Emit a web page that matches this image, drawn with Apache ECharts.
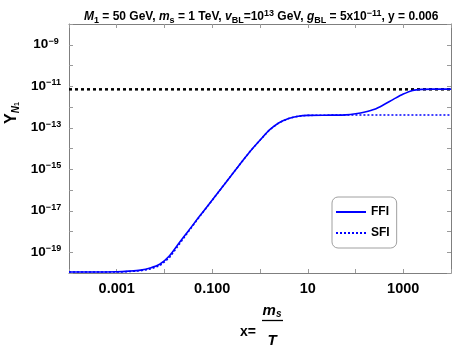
<!DOCTYPE html>
<html>
<head>
<meta charset="utf-8">
<script src="https://cdn.jsdelivr.net/npm/echarts@6/dist/echarts.min.js"></script>
<style>
  html, body { margin: 0; padding: 0; background: #fff; }
  #chart { width: 454px; height: 346px; }
</style>
</head>
<body>
<div id="chart"></div>
<script>
// x = m_s / T
const xValues = [1e-4, 3.16e-4, 1e-3, 1.78e-3, 3.16e-3, 5.01e-3, 7.94e-3, 1.26e-2, 2.0e-2,
  3.16e-2, 5.01e-2, 0.1, 0.2, 0.398, 0.631, 1, 1.58, 2.51, 3.98, 6.31, 10, 31.6, 63.1,
  100, 158, 251, 398, 631, 1000, 1585, 2512, 3981, 1e4]

// Y_N1, freeze-in from fermions (FFI)
const ffiValues = [1.12e-20, 1.12e-20, 1.15e-20, 1.23e-20, 1.38e-20, 1.74e-20, 2.63e-20,
  6.6e-20, 2.7e-19, 1.07e-18, 4.3e-18, 3.3e-17, 2.6e-16, 2.0e-15, 7.6e-15, 2.5e-14,
  7.9e-14, 1.75e-13, 2.8e-13, 3.6e-13, 3.95e-13, 4.05e-13, 4.17e-13, 4.7e-13, 5.75e-13,
  7.8e-13, 1.32e-12, 2.4e-12, 4.2e-12, 6.3e-12, 7.1e-12, 7.25e-12, 7.25e-12]

// Y_N1, freeze-in from scalars (SFI)
const sfiValues = [1.12e-20, 1.12e-20, 1.12e-20, 1.17e-20, 1.29e-20, 1.55e-20, 2.24e-20,
  5.4e-20, 2.3e-19, 9.8e-19, 4.1e-18, 3.2e-17, 2.6e-16, 2.0e-15, 7.6e-15, 2.5e-14,
  7.9e-14, 1.75e-13, 2.8e-13, 3.6e-13, 3.95e-13, 4.05e-13, 4.1e-13, 4.15e-13, 4.15e-13,
  4.15e-13, 4.15e-13, 4.15e-13, 4.15e-13, 4.15e-13, 4.15e-13, 4.15e-13, 4.15e-13]

// observed abundance level (black dashed)
const refLevel = 7.1e-12

const xTickLabels = { '-3': '0.001', '-1': '0.100', '1': '10', '3': '1000' }
const yLabelPowers = [-19, -17, -15, -13, -11, -9]

const frameColor = '#7f7f7f'
const tickColor = '#9a9a9a'
const blue = '#0000ff'
const font = '"Liberation Sans", Arial, sans-serif'

const chart = echarts.init(document.getElementById('chart'))

// y axis works in decades (log10 of the abundance)
function pairs(ys) {
  return xValues.map((x, i) => [x, Math.log10(ys[i])])
}

const xAxisBase = {
  type: 'log',
  logBase: 10,
  min: 1e-4,
  max: 1e4,
  splitNumber: 8,
  axisLine: { show: true, onZero: false, lineStyle: { color: frameColor, width: 1 } },
  axisTick: { show: true, inside: true, length: 4, lineStyle: { color: tickColor } },
  splitLine: { show: false },
  minorTick: { show: false }
}
const yAxisBase = {
  type: 'value',
  min: -20,
  max: -8,
  interval: 1,
  axisLine: { show: true, onZero: false, lineStyle: { color: frameColor, width: 1 } },
  axisTick: { show: true, inside: true, length: 4, lineStyle: { color: tickColor } },
  splitLine: { show: false }
}

const option = {
  animation: false,
  backgroundColor: '#fff',
  title: {
    left: 79,
    top: 4,
    text: '{i|M}{sub|1}{n| = 50 GeV, }{i|m}{sub|s}{n| = 1 TeV, }{i|v}{sub|BL}{n|=10}{sup|13}{n| GeV, }{i|g}{sub|BL}{n| = 5x10}{sup|\u221211}{n|, y = 0.006}',
    textStyle: {
      fontFamily: font,
      fontWeight: 'bold',
      fontSize: 12,
      rich: {
        n: { fontFamily: font, fontWeight: 'bold', fontSize: 12, lineHeight: 16, color: '#000' },
        i: { fontFamily: font, fontWeight: 'bold', fontStyle: 'italic', fontSize: 12, lineHeight: 16, color: '#000' },
        sub: { fontFamily: font, fontWeight: 'bold', fontSize: 9, lineHeight: 9, verticalAlign: 'bottom', color: '#000' },
        sup: { fontFamily: font, fontWeight: 'bold', fontSize: 9, lineHeight: 9, verticalAlign: 'top', color: '#000' }
      }
    }
  },
  grid: { left: 69, top: 24, width: 386, height: 249 },
  legend: {
    data: ['FFI', 'SFI'],
    orient: 'vertical',
    left: 332,
    top: 197,
    padding: [9, 7, 9, 3],
    itemWidth: 30,
    itemHeight: 12,
    itemGap: 9,
    itemStyle: { opacity: 0 },
    backgroundColor: '#fff',
    borderColor: '#a0a0a0',
    borderWidth: 1,
    borderRadius: 6,
    textStyle: { fontFamily: font, fontWeight: 'bold', fontSize: 12, color: '#000' }
  },
  xAxis: [
    Object.assign({}, xAxisBase, {
      position: 'bottom',
      axisLabel: {
        margin: 8,
        fontFamily: font,
        fontWeight: 'bold',
        fontSize: 14.5,
        color: '#000',
        formatter: function (v) {
          return xTickLabels[String(Math.round(Math.log10(v)))] || ''
        }
      }
    }),
    Object.assign({}, xAxisBase, { position: 'top', axisLabel: { show: false } })
  ],
  yAxis: [
    Object.assign({}, yAxisBase, {
      position: 'left',
      axisLabel: {
        margin: 23,
        align: 'center',
        fontFamily: font,
        fontWeight: 'bold',
        fontSize: 13,
        color: '#000',
        formatter: function (v) {
          const e = Math.round(v)
          if (yLabelPowers.indexOf(e) < 0) return ''
          return '{b|10}{s|' + String(e).replace('-', '\u2212') + '}'
        },
        rich: {
          b: { fontFamily: font, fontWeight: 'bold', fontSize: 13.5, lineHeight: 16, color: '#000' },
          s: { fontFamily: font, fontWeight: 'bold', fontSize: 9, lineHeight: 9, verticalAlign: 'top', color: '#000' }
        }
      }
    }),
    Object.assign({}, yAxisBase, { position: 'right', axisLabel: { show: false } })
  ],
  series: [
    {
      name: 'ref',
      type: 'line',
      symbol: 'none',
      data: [[1e-4, Math.log10(refLevel)], [1e4, Math.log10(refLevel)]],
      lineStyle: { color: '#000', width: 2.5, type: [3, 3] },
      z: 2
    },
    {
      name: 'SFI',
      type: 'line',
      symbol: 'none',
      data: pairs(sfiValues),
      lineStyle: { color: blue, width: 1.6, type: [2, 2] },
      itemStyle: { color: blue },
      z: 3
    },
    {
      name: 'FFI',
      type: 'line',
      symbol: 'none',
      smooth: 0.3,
      data: pairs(ffiValues),
      lineStyle: { color: blue, width: 1.6 },
      itemStyle: { color: blue },
      z: 4
    }
  ],
  graphic: [
    {
      type: 'text',
      rotation: Math.PI / 2,
      x: 12,
      y: 113,
      style: {
        text: '{y|Y}{sub|N}{sub2|1}',
        align: 'center',
        verticalAlign: 'middle',
        rich: {
          y: { fontFamily: font, fontWeight: 'bold', fontSize: 16, lineHeight: 18, fill: '#000' },
          sub: { fontFamily: font, fontWeight: 'bold', fontStyle: 'italic', fontSize: 10, lineHeight: 10, verticalAlign: 'bottom', fill: '#000' },
          sub2: { fontFamily: font, fontWeight: 'bold', fontSize: 7, lineHeight: 7, verticalAlign: 'bottom', fill: '#000' }
        }
      }
    },
    {
      type: 'text',
      x: 248,
      y: 332,
      style: { text: 'x=', font: 'bold 14px ' + font, align: 'center', verticalAlign: 'middle', fill: '#000' }
    },
    {
      type: 'text',
      x: 272,
      y: 311,
      style: {
        text: '{m|m}{s|s}',
        align: 'center',
        verticalAlign: 'middle',
        rich: {
          m: { fontFamily: font, fontWeight: 'bold', fontStyle: 'italic', fontSize: 15, lineHeight: 16, fill: '#000' },
          s: { fontFamily: font, fontWeight: 'bold', fontStyle: 'italic', fontSize: 10, lineHeight: 10, verticalAlign: 'bottom', fill: '#000' }
        }
      }
    },
    {
      type: 'line',
      shape: { x1: 262, y1: 320.5, x2: 283, y2: 320.5 },
      style: { stroke: '#000', lineWidth: 1.3 }
    },
    {
      type: 'text',
      x: 272,
      y: 333,
      style: { text: 'T', font: 'italic bold 15px ' + font, align: 'center', verticalAlign: 'top', fill: '#000' }
    }
  ]
}

chart.setOption(option)
</script>
</body>
</html>
